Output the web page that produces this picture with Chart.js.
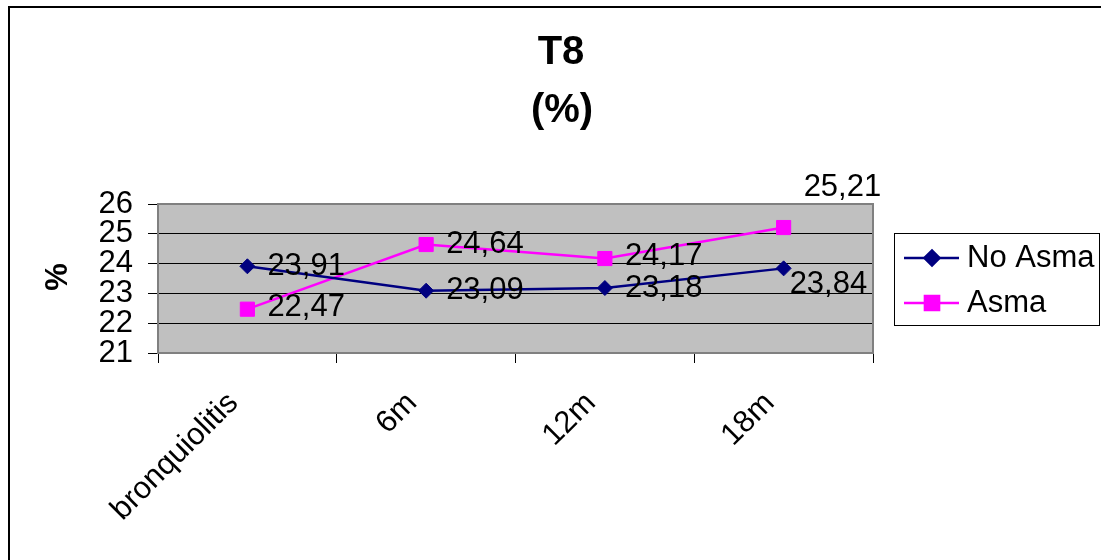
<!DOCTYPE html>
<html>
<head>
<meta charset="utf-8">
<script src="https://cdn.jsdelivr.net/npm/chart.js@4.4.1/dist/chart.umd.min.js"></script>
<style>
  html, body { margin: 0; padding: 0; background: #fff; }
  #wrap { width: 1101px; height: 560px; position: relative; }
</style>
</head>
<body>
<div id="wrap"><canvas id="c" width="1101" height="560"></canvas></div>
<script>
// ---- data ----
const categories = ['bronquiolitis', '6m', '12m', '18m'];
const noAsma = [23.91, 23.09, 23.18, 23.84];
const asma = [22.47, 24.64, 24.17, 25.21];
const yTicks = [21, 22, 23, 24, 25, 26];
const seriesNames = ['No Asma', 'Asma'];
const titleLines = ['T8', '(%)'];
const yTitle = '%';

const FONT = '"Liberation Sans", Arial, sans-serif';

// label offsets (dataset index -> per point [dx, dy])
const labelOffsets = [
  [[20, 0], [20, 0], [20, 0], [6, 16]],
  [[20, -2], [20, 0], [20, -2], [20, -40]]
];

const fmt = v => v.toFixed(2).replace('.', ',');

const decor = {
  id: 'decor',
  beforeDraw(chart) {
    const ctx = chart.ctx, a = chart.chartArea;
    ctx.save();
    ctx.fillStyle = '#fff';
    ctx.fillRect(0, 0, chart.width, chart.height);
    // outer frame
    ctx.strokeStyle = '#000';
    ctx.lineWidth = 2;
    ctx.strokeRect(9, 7, 1300, 1000);
    // plot background
    ctx.fillStyle = '#C0C0C0';
    ctx.fillRect(a.left, a.top, a.right - a.left, a.bottom - a.top);
    ctx.restore();
  },
  beforeDatasetsDraw(chart) {
    const ctx = chart.ctx, a = chart.chartArea;
    ctx.save();
    ctx.strokeStyle = '#808080';
    ctx.lineWidth = 2;
    ctx.strokeRect(a.left, a.top, a.right - a.left, a.bottom - a.top);
    ctx.restore();
  },
  afterDatasetsDraw(chart) {
    const ctx = chart.ctx;
    ctx.save();
    ctx.font = '31px ' + FONT;
    ctx.fillStyle = '#000';
    ctx.textAlign = 'left';
    ctx.textBaseline = 'middle';
    chart.data.datasets.forEach((ds, di) => {
      const meta = chart.getDatasetMeta(di);
      meta.data.forEach((pt, i) => {
        const o = labelOffsets[di][i];
        ctx.fillText(fmt(ds.data[i]), pt.x + o[0], pt.y + o[1]);
      });
    });
    ctx.restore();
  },
  afterDraw(chart) {
    const ctx = chart.ctx;
    ctx.save();
    // title
    ctx.fillStyle = '#000';
    ctx.textAlign = 'center';
    ctx.textBaseline = 'middle';
    ctx.font = 'bold 40px ' + FONT;
    ctx.fillText(titleLines[0], 561, 53);
    ctx.fillText(titleLines[1], 562, 111);
    // y title
    ctx.save();
    ctx.translate(58, 277);
    ctx.rotate(-Math.PI / 2);
    ctx.font = 'bold 31px ' + FONT;
    ctx.fillText(yTitle, 0, 0);
    ctx.restore();
    // legend
    ctx.strokeStyle = '#000';
    ctx.lineWidth = 1;
    ctx.strokeRect(894.5, 233.5, 205, 92);
    const rows = [258, 303];
    chart.data.datasets.forEach((ds, di) => {
      const y = rows[di];
      ctx.strokeStyle = ds.borderColor;
      ctx.lineWidth = 2.5;
      ctx.beginPath();
      ctx.moveTo(904, y);
      ctx.lineTo(959, y);
      ctx.stroke();
      ctx.fillStyle = ds.borderColor;
      Chart.helpers.drawPoint(ctx, {pointStyle: ds.pointStyle, radius: ds.pointRadius, borderWidth: 1, rotation: 0}, 932, y);
      ctx.fill();
      ctx.fillStyle = '#000';
      ctx.textAlign = 'left';
      ctx.font = '31px ' + FONT;
      ctx.fillText(ds.label, 967, y);
    });
    ctx.restore();
  }
};

new Chart(document.getElementById('c'), {
  type: 'line',
  data: {
    labels: categories,
    datasets: [
      {
        label: seriesNames[0], data: noAsma,
        borderColor: '#000080', backgroundColor: '#000080',
        borderWidth: 2.5, pointStyle: 'rectRot', pointRadius: 7.5,
        pointBorderWidth: 1, tension: 0, fill: false
      },
      {
        label: seriesNames[1], data: asma,
        borderColor: '#FF00FF', backgroundColor: '#FF00FF',
        borderWidth: 2.5, pointStyle: 'rect', pointRadius: 10,
        pointBorderWidth: 1, tension: 0, fill: false
      }
    ]
  },
  options: {
    responsive: false,
    animation: false,
    devicePixelRatio: 1,
    layout: { padding: { left: 0, top: 204, right: 228, bottom: 0 } },
    plugins: { legend: { display: false }, title: { display: false }, tooltip: { enabled: false } },
    scales: {
      x: {
        type: 'category',
        offset: true,
        grid: { offset: true, drawOnChartArea: false, tickLength: 10, color: '#000', lineWidth: 1 },
        border: { color: '#808080', width: 2 },
        ticks: {
          font: { family: FONT, size: 31 }, color: '#000',
          minRotation: 45, maxRotation: 45, padding: 22, labelOffset: -14,
          autoSkip: false
        },
        afterFit(scale) { scale.height = 207; }
      },
      y: {
        min: 21, max: 26,
        afterBuildTicks(scale) { scale.ticks = yTicks.map(v => ({ value: v })); },
        grid: {
          color: ctx => (ctx.tick && (ctx.tick.value === 21 || ctx.tick.value === 26)) ? 'rgba(0,0,0,0)' : '#000',
          tickColor: '#000', tickLength: 10, lineWidth: 1
        },
        border: { color: '#808080', width: 2 },
        ticks: { font: { family: FONT, size: 31 }, color: '#000', padding: 15, autoSkip: false },
        afterFit(scale) { scale.width = 158; }
      }
    }
  },
  plugins: [decor]
});
</script>
</body>
</html>
